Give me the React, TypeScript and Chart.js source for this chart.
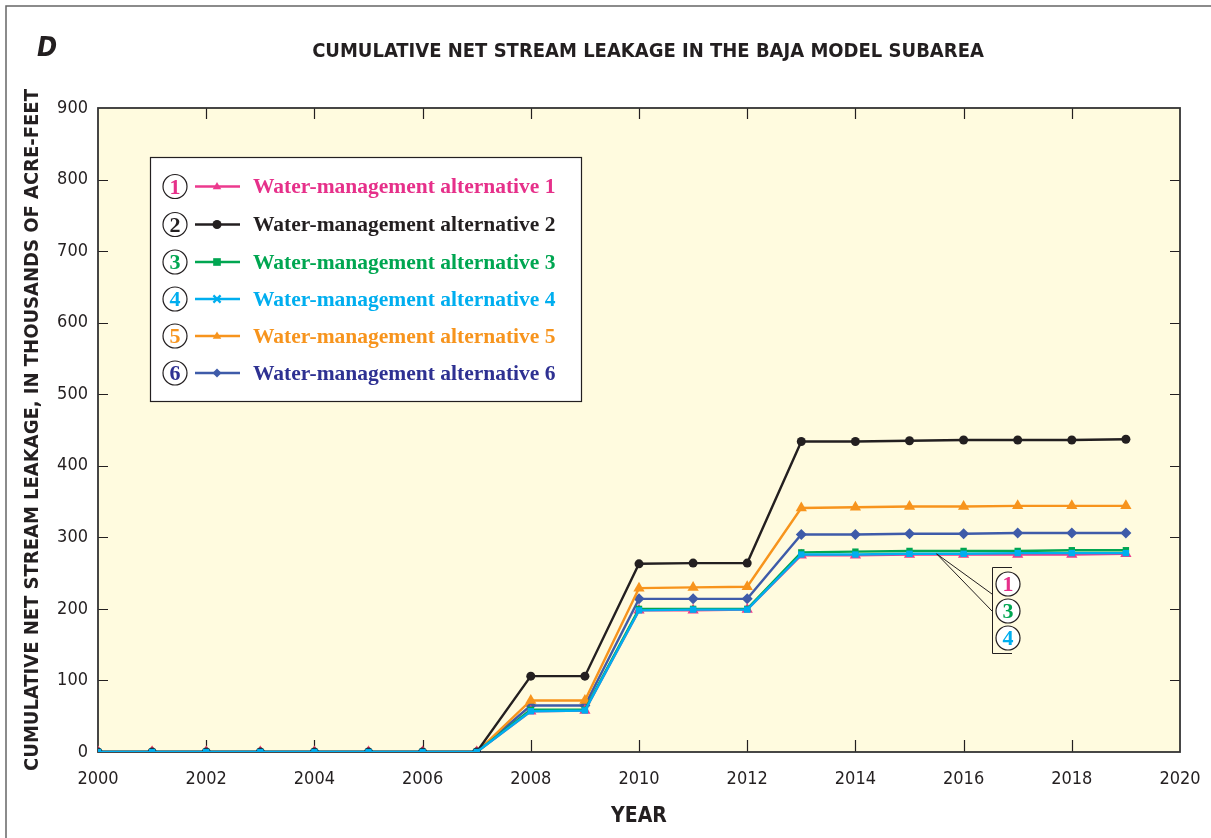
import React, { useEffect, useRef } from "react";
import { Chart, registerables } from "chart.js";

Chart.register(...registerables);

const years = [2000, 2001, 2002, 2003, 2004, 2005, 2006, 2007, 2008, 2009, 2010, 2011, 2012, 2013, 2014, 2015, 2016, 2017, 2018, 2019];
const alt1 = [0, 0, 0, 0, 0, 0, 0, 0, 57, 58, 198, 198, 199, 275, 275, 276, 276, 276, 276, 277];
const alt2 = [0, 0, 0, 0, 0, 0, 0, 0, 106, 106, 263, 264, 264, 434, 434, 435, 436, 436, 436, 437];
const alt3 = [0, 0, 0, 0, 0, 0, 0, 0, 59, 59, 200, 200, 200, 279, 280, 281, 281, 281, 282, 282];
const alt4 = [0, 0, 0, 0, 0, 0, 0, 0, 57, 58, 198, 199, 199, 276, 276, 277, 277, 278, 278, 278];
const alt5 = [0, 0, 0, 0, 0, 0, 0, 0, 72, 72, 229, 230, 231, 341, 342, 343, 343, 344, 344, 344];
const alt6 = [0, 0, 0, 0, 0, 0, 0, 0, 65, 65, 214, 214, 214, 304, 304, 305, 305, 306, 306, 306];

const seriesLabels = [
  "Water-management alternative 1",
  "Water-management alternative 2",
  "Water-management alternative 3",
  "Water-management alternative 4",
  "Water-management alternative 5",
  "Water-management alternative 6",
];
const seriesNumbers = ["1", "2", "3", "4", "5", "6"];
const lineColors = ["#EC3A8E", "#231F20", "#00A651", "#00AEEF", "#F7941D", "#3E5BA9"];
const textColors = ["#E6308A", "#231F20", "#00A651", "#00AEEF", "#F7941D", "#2E3192"];
const pointStyles = ["triangle", "circle", "rect", "rect", "triangle", "rectRot"];
const legendMarkers = ["triangle", "circle", "rect", "crossRot", "triangle", "rectRot"];
const drawOrder = [3, 1, 2, 0, 4, 5];

const titleText = "CUMULATIVE NET STREAM LEAKAGE IN THE BAJA MODEL SUBAREA";
const panelLetter = "D";
const xTitle = "YEAR";
const yTitle = "CUMULATIVE NET STREAM LEAKAGE, IN THOUSANDS OF ACRE-FEET";
const calloutNumbers = ["1", "3", "4"];
const calloutColors = ["#E6308A", "#00A651", "#00AEEF"];

const NARROW = "'Liberation Sans Narrow', 'DejaVu Sans Condensed', 'Arial Narrow', sans-serif";
const SERIF = "'Liberation Serif', 'DejaVu Serif', serif";
const INK = "#231F20";

function drawMarker(ctx: CanvasRenderingContext2D, style: string, x: number, y: number, r: number, color: string) {
  ctx.save();
  ctx.fillStyle = color;
  ctx.strokeStyle = color;
  ctx.beginPath();
  if (style === "circle") {
    ctx.arc(x, y, r, 0, Math.PI * 2);
    ctx.fill();
  } else if (style === "triangle") {
    ctx.moveTo(x, y - r);
    ctx.lineTo(x + r * 0.95, y + r * 0.6);
    ctx.lineTo(x - r * 0.95, y + r * 0.6);
    ctx.closePath();
    ctx.fill();
  } else if (style === "rect") {
    ctx.rect(x - r * 0.85, y - r * 0.85, r * 1.7, r * 1.7);
    ctx.fill();
  } else if (style === "rectRot") {
    ctx.moveTo(x, y - r);
    ctx.lineTo(x + r, y);
    ctx.lineTo(x, y + r);
    ctx.lineTo(x - r, y);
    ctx.closePath();
    ctx.fill();
  } else if (style === "crossRot") {
    ctx.lineWidth = 2.2;
    ctx.moveTo(x - r * 0.8, y - r * 0.8);
    ctx.lineTo(x + r * 0.8, y + r * 0.8);
    ctx.moveTo(x + r * 0.8, y - r * 0.8);
    ctx.lineTo(x - r * 0.8, y + r * 0.8);
    ctx.stroke();
  }
  ctx.restore();
}

function circledNumber(ctx: CanvasRenderingContext2D, x: number, y: number, num: string, color: string) {
  ctx.save();
  ctx.beginPath();
  ctx.arc(x, y, 12, 0, Math.PI * 2);
  ctx.fillStyle = "#ffffff";
  ctx.fill();
  ctx.lineWidth = 1.2;
  ctx.strokeStyle = INK;
  ctx.stroke();
  ctx.fillStyle = color;
  ctx.font = `bold 22px ${SERIF}`;
  ctx.textAlign = "center";
  ctx.textBaseline = "middle";
  ctx.fillText(num, x, y + 1.5);
  ctx.restore();
}

const decorPlugin = {
  id: "decor",
  beforeDraw(chart: any) {
    const { ctx, chartArea: a } = chart;
    ctx.save();
    ctx.fillStyle = "#ffffff";
    ctx.fillRect(0, 0, chart.width, chart.height);
    // outer panel frame
    ctx.strokeStyle = "#666666";
    ctx.lineWidth = 1.5;
    ctx.beginPath();
    ctx.moveTo(6, chart.height + 2);
    ctx.lineTo(6, 6);
    ctx.lineTo(chart.width + 2, 6);
    ctx.stroke();
    // plot background
    ctx.fillStyle = "#FFFBDF";
    ctx.fillRect(a.left, a.top, a.right - a.left, a.bottom - a.top);
    ctx.restore();
  },
  beforeDatasetsDraw(chart: any) {
    const { ctx, chartArea: a, scales } = chart;
    const xs = scales.x;
    const ys = scales.y;
    ctx.save();
    ctx.strokeStyle = INK;
    ctx.lineWidth = 1.2;
    for (const t of xs.ticks) {
      if (t.value <= xs.min || t.value >= xs.max) continue;
      const px = Math.round(xs.getPixelForValue(t.value)) + 0.5;
      ctx.beginPath();
      ctx.moveTo(px, a.bottom);
      ctx.lineTo(px, a.bottom - 12);
      ctx.moveTo(px, a.top);
      ctx.lineTo(px, a.top + 11);
      ctx.stroke();
    }
    for (const t of ys.ticks) {
      if (t.value <= ys.min || t.value >= ys.max) continue;
      const py = Math.round(ys.getPixelForValue(t.value)) + 0.5;
      ctx.beginPath();
      ctx.moveTo(a.left, py);
      ctx.lineTo(a.left + 10, py);
      ctx.moveTo(a.right, py);
      ctx.lineTo(a.right - 10, py);
      ctx.stroke();
    }
    ctx.lineWidth = 1.8;
    ctx.strokeStyle = "#333333";
    ctx.strokeRect(a.left, a.top, a.right - a.left, a.bottom - a.top);
    ctx.restore();
  },
  afterDraw(chart: any) {
    const { ctx, scales } = chart;
    ctx.save();
    // panel letter
    ctx.fillStyle = INK;
    ctx.font = `italic bold 27px ${NARROW}`;
    ctx.textAlign = "left";
    ctx.textBaseline = "alphabetic";
    ctx.fillText(panelLetter, 37, 56);
    // title
    ctx.font = `bold 20px ${NARROW}`;
    ctx.textAlign = "center";
    ctx.textBaseline = "middle";
    ctx.fillText(titleText, 648, 52);

    // legend box
    const bx = 150, by = 157, bw = 431, bh = 244;
    ctx.fillStyle = "#ffffff";
    ctx.fillRect(bx, by, bw, bh);
    ctx.strokeStyle = INK;
    ctx.lineWidth = 1.2;
    ctx.strokeRect(bx + 0.5, by + 0.5, bw, bh);
    const rowY = [186.5, 224.5, 262, 299, 336, 373];
    for (let i = 0; i < seriesLabels.length; i++) {
      const y = rowY[i];
      circledNumber(ctx, 175, y, seriesNumbers[i], textColors[i]);
      ctx.strokeStyle = lineColors[i];
      ctx.lineWidth = 2.4;
      ctx.beginPath();
      ctx.moveTo(195, y);
      ctx.lineTo(240, y);
      ctx.stroke();
      drawMarker(ctx, legendMarkers[i], 217, y, 4.5, lineColors[i]);
      ctx.fillStyle = textColors[i];
      ctx.font = `bold 21.5px ${SERIF}`;
      ctx.textAlign = "left";
      ctx.textBaseline = "middle";
      ctx.fillText(seriesLabels[i], 253, y + 1);
    }

    // callout for alternatives 1, 3, 4
    const xs = scales.x;
    const ys = scales.y;
    const ax = xs.getPixelForValue(2015.5);
    const ay = ys.getPixelForValue(277);
    const brX = 992;
    ctx.strokeStyle = INK;
    ctx.lineWidth = 1;
    ctx.beginPath();
    ctx.moveTo(ax, ay);
    ctx.lineTo(brX, 594);
    ctx.moveTo(ax, ay);
    ctx.lineTo(brX, 611);
    ctx.moveTo(1012, 567.5);
    ctx.lineTo(brX + 0.5, 567.5);
    ctx.lineTo(brX + 0.5, 653.5);
    ctx.lineTo(1012, 653.5);
    ctx.stroke();
    const cy = [584, 611, 638];
    for (let i = 0; i < calloutNumbers.length; i++) {
      circledNumber(ctx, 1008, cy[i], calloutNumbers[i], calloutColors[i]);
    }
    ctx.restore();
  },
};

const seriesValues = [alt1, alt2, alt3, alt4, alt5, alt6];

export default function App() {
  const canvasRef = useRef<HTMLCanvasElement | null>(null);

  useEffect(() => {
    const canvas = canvasRef.current;
    if (!canvas) return;
    const datasets = seriesValues.map((vals, i) => ({
      label: seriesLabels[i],
      data: years.map((yr, j) => ({ x: yr, y: vals[j] })),
      borderColor: lineColors[i],
      backgroundColor: lineColors[i],
      borderWidth: 2.4,
      pointStyle: pointStyles[i],
      pointRadius: pointStyles[i] === "circle" ? 4.5 : pointStyles[i] === "rect" ? 4.5 : pointStyles[i] === "triangle" ? 6.5 : 5.5,
      pointBorderWidth: 0,
      pointBackgroundColor: lineColors[i],
      tension: 0,
      order: drawOrder[i],
    }));
    const chart = new Chart(canvas, {
      type: "line",
      data: { datasets },
      plugins: [decorPlugin],
      options: {
        responsive: false,
        animation: false,
        layout: { padding: { left: 0, right: 31, top: 108, bottom: 0 } },
        plugins: {
          legend: { display: false },
          tooltip: { enabled: false },
          title: { display: false },
        },
        scales: {
          x: {
            type: "linear",
            min: 2000,
            max: 2020,
            grid: { display: false, drawTicks: false },
            border: { display: false },
            ticks: {
              stepSize: 2,
              color: INK,
              padding: 17,
              font: { family: NARROW, size: 18 },
              callback: (v: any) => String(v),
            },
            title: {
              display: true,
              text: xTitle,
              color: INK,
              font: { family: NARROW, size: 21, weight: "bold" },
              padding: { top: 0, bottom: 9 },
            },
            afterFit: (s: any) => {
              s.height = 86;
              s.paddingLeft = 0;
              s.paddingRight = 0;
            },
          },
          y: {
            type: "linear",
            min: 0,
            max: 900,
            grid: { display: false, drawTicks: false },
            border: { display: false },
            ticks: {
              stepSize: 100,
              color: INK,
              padding: 10,
              font: { family: NARROW, size: 18 },
            },
            title: {
              display: true,
              text: yTitle,
              color: INK,
              font: { family: NARROW, size: 20, weight: "bold" },
              padding: { top: 21, bottom: 0 },
            },
            afterFit: (s: any) => {
              s.width = 98;
              s.paddingTop = 0;
              s.paddingBottom = 0;
            },
          },
        },
      },
    });
    return () => chart.destroy();
  }, []);

  return (
    <div style={{ position: "fixed", left: 0, top: 0, width: 1211, height: 838 }}>
      <canvas ref={canvasRef} width={1211} height={838} style={{ width: 1211, height: 838 }} />
    </div>
  );
}
